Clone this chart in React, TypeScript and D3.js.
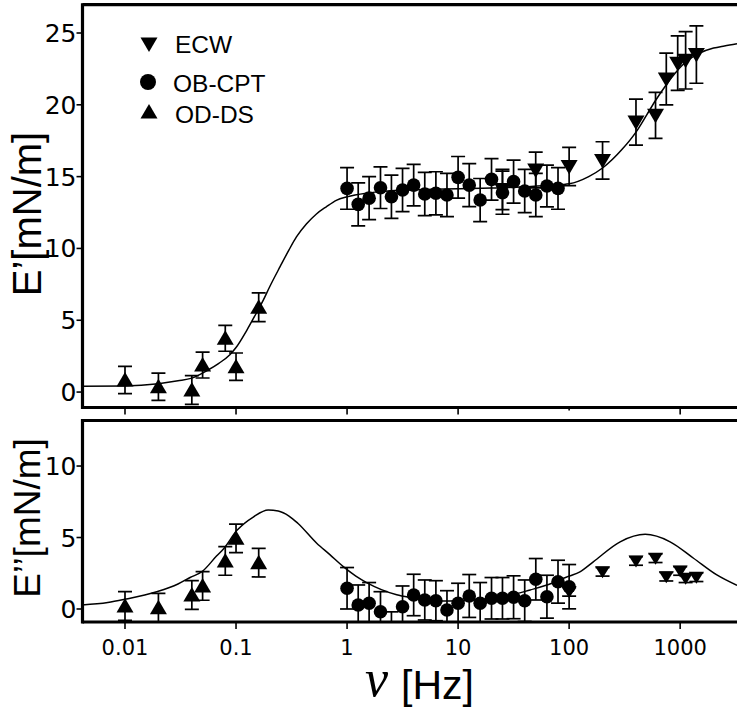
import React from "react";
import * as d3 from "d3";

// ---------- data ----------
// Top panel: E' [mN/m]
const odFreq = [0.01, 0.02, 0.04, 0.05, 0.08, 0.1, 0.16];
const odTopE = [0.84, 0.37, 0.14, 1.88, 3.74, 1.77, 5.9];
const odTopErr = [0.95, 0.95, 1.0, 0.9, 0.9, 0.95, 1.0];

const obTopFreq = [1, 1.26, 1.58, 2, 2.51, 3.16, 3.98, 5.01, 6.31, 7.94, 10, 12.6, 15.8, 20, 25.1, 31.6, 39.8, 50.1, 63.1, 79.4];
const obTopE = [14.18, 13.07, 13.5, 14.23, 13.6, 14.07, 14.41, 13.79, 13.84, 13.72, 14.95, 14.41, 13.37, 14.81, 13.88, 14.65, 14.0, 13.72, 14.35, 14.18];
const obTopErr = [1.45, 1.5, 1.5, 1.45, 1.5, 1.5, 1.45, 1.5, 1.5, 1.5, 1.45, 1.5, 1.5, 1.45, 1.5, 1.5, 1.5, 1.5, 1.45, 1.45];

const ecwTopFreq = [25.1, 50, 100, 200, 400, 600, 750, 950, 1120, 1400];
const ecwTopE = [14.1, 15.46, 15.7, 16.13, 18.8, 19.27, 21.8, 22.9, 23.1, 23.5];
const ecwTopErr = [1.4, 1.25, 1.33, 1.3, 1.6, 1.6, 1.8, 1.9, 2.0, 2.0];

const fitTopFreq = [0.0041, 0.01, 0.02, 0.03, 0.04, 0.055, 0.07, 0.088, 0.1, 0.125, 0.15, 0.176, 0.2, 0.25, 0.3, 0.35, 0.43, 0.53, 0.65, 0.8, 1, 1.5, 2, 3, 5, 10, 20, 40, 70, 100, 150, 200, 300, 400, 500, 600, 750, 900, 1130, 1500, 2000, 2500, 3250];
const fitTopE = [0.4, 0.42, 0.58, 0.78, 0.97, 1.5, 2.0, 2.6, 3.1, 4.3, 5.4, 6.4, 7.3, 8.75, 9.9, 10.8, 11.7, 12.4, 12.9, 13.35, 13.6, 13.85, 13.95, 14.05, 14.1, 14.15, 14.2, 14.3, 14.4, 14.5, 15.0, 15.6, 16.9, 18.1, 19.3, 20.3, 21.4, 22.2, 23.0, 23.6, 23.95, 24.1, 24.25];

// Bottom panel: E'' [mN/m]
const odBotE = [0.21, 0.09, 0.98, 1.61, 3.36, 4.94, 3.24];
const odBotErr = [1.0, 1.0, 1.0, 1.0, 1.0, 1.0, 1.0];

const obBotFreq = [1, 1.26, 1.58, 2, 2.51, 3.16, 3.98, 5.01, 6.31, 7.94, 10, 12.6, 15.8, 20, 25.1, 31.6, 39.8, 50.1, 63.1, 79.4, 100];
const obBotE = [1.45, 0.28, 0.4, -0.19, -1.6, 0.16, 0.98, 0.63, 0.58, -0.07, 0.4, 0.91, 0.4, 0.75, 0.75, 0.82, 0.58, 2.08, 0.86, 1.91, 1.56];
const obBotErr = [1.45, 1.4, 1.45, 1.4, 1.4, 1.45, 1.45, 1.4, 1.4, 1.35, 1.4, 1.5, 1.45, 1.45, 1.45, 1.5, 1.45, 1.45, 1.5, 1.5, 1.55];

const ecwBotFreq = [100, 200, 400, 600, 750, 1000, 1120, 1400];
const ecwBotE = [1.2, 2.6, 3.36, 3.55, 2.26, 2.66, 2.15, 2.22];
const ecwBotErr = [0.3, 0.3, 0.3, 0.3, 0.3, 0.3, 0.3, 0.3];

const fitBotFreq = [0.0041, 0.007, 0.01, 0.0193, 0.03, 0.0386, 0.05, 0.0667, 0.077, 0.102, 0.144, 0.195, 0.24, 0.3, 0.36, 0.533, 0.7, 0.925, 1.2, 1.5, 2.8, 3.75, 5.6, 8, 11.2, 22, 44.6, 70, 89, 100, 125, 165, 288, 484, 812, 1320, 2140, 3250];
const fitBotE = [0.28, 0.45, 0.68, 1.21, 1.75, 2.2, 2.65, 3.7, 4.2, 5.5, 6.45, 6.92, 6.85, 6.5, 6.0, 4.6, 3.8, 2.96, 2.3, 1.85, 1.0, 0.8, 0.6, 0.56, 0.6, 0.75, 1.33, 1.8, 2.15, 2.3, 2.6, 3.3, 4.7, 5.22, 4.7, 3.55, 2.38, 1.65];

const xTickValues = [0.01, 0.1, 1, 10, 100, 1000];
const xTickLabels = ["0.01", "0.1", "1", "10", "100", "1000"];
const yTopTicks = [0, 5, 10, 15, 20, 25];
const yBotTicks = [0, 5, 10];

const legendNames = ["ECW", "OB-CPT", "OD-DS"];

// ---------- layout ----------
const W = 737;
const H = 709;
const LEFT = 82.5;
const TOP1 = 4.7;
const BOT1 = 407.5;
const TOP2 = 420.5;
const BOT2 = 622;

const x = d3.scaleLog().domain([0.0041, 3250]).range([82, 737]);
const yTop = d3.scaleLinear().domain([-1.11, 26.95]).range([408, 5]);
const yBot = d3.scaleLinear().domain([-0.98, 13.15]).range([623, 421]);

const triUp = "M0,-8L8.5,6.5L-8.5,6.5Z";
const triDown = "M0,8L8.5,-6.5L-8.5,-6.5Z";
const triDownSmall = "M0,6.5L7.5,-5.5L-7.5,-5.5Z";

type Pt = { f: number; v: number; e: number };
const zip = (f: number[], v: number[], e: number[]): Pt[] => f.map((d, i) => ({ f: d, v: v[i], e: e[i] }));

function ErrorBars({ pts, y }: { pts: Pt[]; y: d3.ScaleLinear<number, number> }) {
  return (
    <g stroke="#000" strokeWidth={1.7} fill="none">
      {pts.map((p, i) => {
        const cx = x(p.f);
        const y1 = y(p.v + p.e);
        const y2 = y(p.v - p.e);
        return (
          <g key={i}>
            <line x1={cx} x2={cx} y1={y1} y2={y2} />
            <line x1={cx - 7} x2={cx + 7} y1={y1} y2={y1} />
            <line x1={cx - 7} x2={cx + 7} y1={y2} y2={y2} />
          </g>
        );
      })}
    </g>
  );
}

function Markers({ pts, y, kind }: { pts: Pt[]; y: d3.ScaleLinear<number, number>; kind: string }) {
  return (
    <g fill="#000">
      {pts.map((p, i) => {
        const cx = x(p.f);
        const cy = y(p.v);
        if (kind === "circle") return <circle key={i} cx={cx} cy={cy} r={6.8} />;
        const d = kind === "up" ? triUp : kind === "downSmall" ? triDownSmall : triDown;
        return <path key={i} d={d} transform={`translate(${cx},${cy})`} />;
      })}
    </g>
  );
}

export default function App() {
  const lineTop = d3
    .line<number>()
    .x((_, i) => x(fitTopFreq[i]))
    .y((d) => yTop(d))
    .curve(d3.curveMonotoneX)(fitTopE) as string;
  const lineBot = d3
    .line<number>()
    .x((_, i) => x(fitBotFreq[i]))
    .y((d) => yBot(d))
    .curve(d3.curveMonotoneX)(fitBotE) as string;

  const odTop = zip(odFreq, odTopE, odTopErr);
  const obTop = zip(obTopFreq, obTopE, obTopErr);
  const ecwTop = zip(ecwTopFreq, ecwTopE, ecwTopErr);
  const odBot = zip(odFreq, odBotE, odBotErr);
  const obBot = zip(obBotFreq, obBotE, obBotErr);
  const ecwBot = zip(ecwBotFreq, ecwBotE, ecwBotErr);

  const tickFont = "'DejaVu Sans', Verdana, sans-serif";
  const legFont = "'Liberation Sans', Arial, sans-serif";

  return (
    <svg
      width={W}
      height={H}
      viewBox={`0 0 ${W} ${H}`}
      style={{ position: "absolute", left: 0, top: 0, background: "#fff" }}
    >
      <defs>
        <clipPath id="clipTop">
          <rect x={LEFT} y={TOP1} width={W - LEFT} height={BOT1 - TOP1} />
        </clipPath>
        <clipPath id="clipBot">
          <rect x={LEFT} y={TOP2} width={W - LEFT} height={BOT2 - TOP2} />
        </clipPath>
      </defs>
      <rect width={W} height={H} fill="#fff" />

      {/* ---------- top panel ---------- */}
      <g clipPath="url(#clipTop)">
        <path d={lineTop} fill="none" stroke="#000" strokeWidth={1.5} />
        <ErrorBars pts={odTop} y={yTop} />
        <ErrorBars pts={ecwTop} y={yTop} />
        <ErrorBars pts={obTop} y={yTop} />
        <Markers pts={odTop} y={yTop} kind="up" />
        <Markers pts={ecwTop} y={yTop} kind="down" />
        <Markers pts={obTop} y={yTop} kind="circle" />
      </g>
      {/* frame */}
      <g stroke="#000" strokeWidth={3.2} fill="none">
        <line x1={LEFT} x2={W} y1={TOP1} y2={TOP1} />
        <line x1={LEFT} x2={W} y1={BOT1} y2={BOT1} />
        <line x1={LEFT} x2={LEFT} y1={TOP1 - 1.5} y2={BOT1 + 1.5} />
      </g>
      <g stroke="#000" strokeWidth={1.6}>
        {xTickValues.map((t) => (
          <line key={t} x1={x(t)} x2={x(t)} y1={BOT1} y2={BOT1 + (t === 100 ? 3 : 7)} />
        ))}
        {yTopTicks.map((t) => (
          <line key={t} x1={LEFT - 6} x2={LEFT} y1={yTop(t)} y2={yTop(t)} />
        ))}
      </g>
      <g fontFamily={tickFont} fontSize={25} textAnchor="end" fill="#000">
        {yTopTicks.map((t) => (
          <text key={t} x={LEFT - 6} y={yTop(t)} dy="0.36em">
            {t}
          </text>
        ))}
      </g>
      <text
        transform={`translate(41,214) rotate(-90)`}
        textAnchor="middle"
        fontFamily={legFont}
        fontSize={40}
        fill="#000"
      >
        E’[mN/m]
      </text>

      {/* legend */}
      <g fill="#000">
        <path d={triDown} transform="translate(149,44)" />
        <circle cx={148} cy={82} r={8} />
        <path d={triUp} transform="translate(149,112)" />
      </g>
      <g fontFamily={legFont} fontSize={24.5} fill="#000">
        <text x={175} y={52.7}>{legendNames[0]}</text>
        <text x={173} y={91.7}>{legendNames[1]}</text>
        <text x={175} y={122.5}>{legendNames[2]}</text>
      </g>

      {/* ---------- bottom panel ---------- */}
      <g clipPath="url(#clipBot)">
        <path d={lineBot} fill="none" stroke="#000" strokeWidth={1.5} />
        <ErrorBars pts={odBot} y={yBot} />
        <ErrorBars pts={ecwBot} y={yBot} />
        <ErrorBars pts={obBot} y={yBot} />
        <Markers pts={odBot} y={yBot} kind="up" />
        <Markers pts={ecwBot} y={yBot} kind="downSmall" />
        <Markers pts={obBot} y={yBot} kind="circle" />
      </g>
      <g stroke="#000" strokeWidth={3.2} fill="none">
        <line x1={LEFT} x2={W} y1={TOP2} y2={TOP2} />
        <line x1={LEFT} x2={W} y1={BOT2} y2={BOT2} />
        <line x1={LEFT} x2={LEFT} y1={TOP2 - 1.5} y2={BOT2 + 1.5} />
      </g>
      <g stroke="#000" strokeWidth={1.6}>
        {xTickValues.map((t) => (
          <line key={t} x1={x(t)} x2={x(t)} y1={BOT2} y2={BOT2 + 7} />
        ))}
        {yBotTicks.map((t) => (
          <line key={t} x1={LEFT - 6} x2={LEFT} y1={yBot(t)} y2={yBot(t)} />
        ))}
      </g>
      <g fontFamily={tickFont} fontSize={21} textAnchor="middle" fill="#000">
        {yBotTicks.map((t) => (
          <text key={t} x={LEFT - 6} y={yBot(t)} dy="0.36em" fontSize={25} textAnchor="end">
            {t}
          </text>
        ))}
        {xTickValues.map((t, i) => (
          <text key={t} x={x(t)} y={655}>
            {xTickLabels[i]}
          </text>
        ))}
      </g>
      <text
        transform={`translate(40,518) rotate(-90)`}
        textAnchor="middle"
        fontFamily={legFont}
        fontSize={37}
        fill="#000"
      >
        E’’[mN/m]
      </text>
      <text x={365} y={696} fontFamily="'Liberation Serif', 'DejaVu Serif', serif" fontStyle="italic" fontSize={52} fill="#000">
        ν
      </text>
      <text x={401} y={699} fontFamily={legFont} fontSize={41} fill="#000">
        [Hz]
      </text>
    </svg>
  );
}
